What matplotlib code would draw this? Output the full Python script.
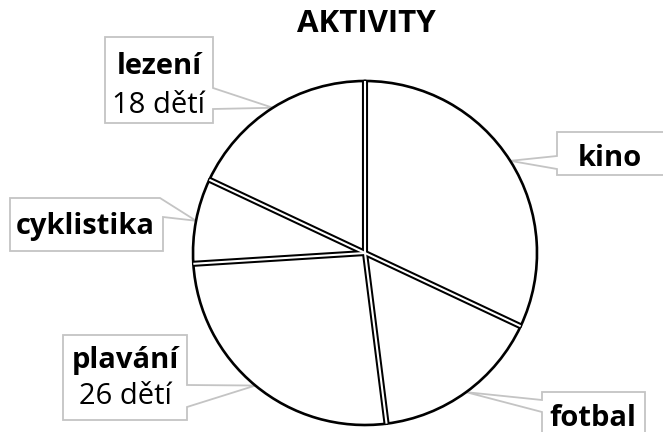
import matplotlib
matplotlib.use('Agg')
import matplotlib.pyplot as plt
import numpy as np
from matplotlib.patches import Polygon

plt.rcParams['font.family'] = ['Open Sans', 'DejaVu Sans']

# data
aktivity = ['kino', 'fotbal', 'plavání', 'cyklistika', 'lezení']
pocty = [32, 16, 26, 8, 18]
ukaz_pocet = [False, False, True, False, True]

W, H = 663, 432
cx, cy, r = 365, H - 253, 172

# callout outlines in pixels (y from top), None = tip on the pie
obrysy = {
    'kino': [(557, 132), (675, 132), (675, 175), (557, 175), (557, 169), None, (557, 156)],
    'fotbal': [(542, 392), (645, 392), (645, 445), (542, 445), (542, 412), None, (542, 400)],
    'plavání': [(63, 335), (187, 335), (187, 385), None, (187, 407), (187, 420), (63, 420)],
    'cyklistika': [(10, 198), (160, 198), None, (163, 217), (163, 251), (10, 251)],
    'lezení': [(105, 37), (213, 37), (213, 88), None, (213, 109), (213, 123), (105, 123)],
}
# text baseline positions (name, count)
texty = {
    'kino': (610, 166, None),
    'fotbal': (593, 426, None),
    'plavání': (125, 368, 404),
    'cyklistika': (85, 234, None),
    'lezení': (159, 74, 113),
}

fig = plt.figure(figsize=(W / 100, H / 100), dpi=100)
ax = fig.add_axes([0, 0, 1, 1])

wedges, _ = ax.pie(pocty, startangle=90, counterclock=False, center=(cx, cy), radius=r,
                   colors=['white'] * len(pocty),
                   wedgeprops=dict(edgecolor='black', linewidth=1.9, zorder=2))

# double lines between slices
for w in wedges:
    t = np.radians(w.theta1)
    xs = [cx, cx + r * np.cos(t)]
    ys = [cy, cy + r * np.sin(t)]
    ax.plot(xs, ys, color='black', lw=4.4, solid_capstyle='butt', zorder=3)
    ax.plot(xs, ys, color='white', lw=1.5, solid_capstyle='butt', zorder=4)

for w, name, pocet, ukaz in zip(wedges, aktivity, pocty, ukaz_pocet):
    t = np.radians((w.theta1 + w.theta2) / 2)
    tip = (cx + r * np.cos(t), cy + r * np.sin(t))
    pts = [tip if p is None else (p[0], H - p[1]) for p in obrysy[name]]
    ax.add_patch(Polygon(pts, closed=True, facecolor='white', edgecolor='#c4c4c4',
                         lw=1.3, zorder=1))
    x, y1, y2 = texty[name]
    ax.text(x, H - y1, name, ha='center', va='baseline', fontsize=21,
            fontweight='bold', zorder=5)
    if ukaz:
        ax.text(x, H - y2, f'{pocet} dětí', ha='center', va='baseline',
                fontsize=21, zorder=5)

ax.set_xlim(0, W)
ax.set_ylim(0, H)
ax.set_aspect('equal')
ax.axis('off')

fig.text(366 / W, 1 - 24 / H, 'AKTIVITY', ha='center', va='center',
         fontsize=22.5, fontweight='bold')

fig.savefig('out.png', dpi=100)
